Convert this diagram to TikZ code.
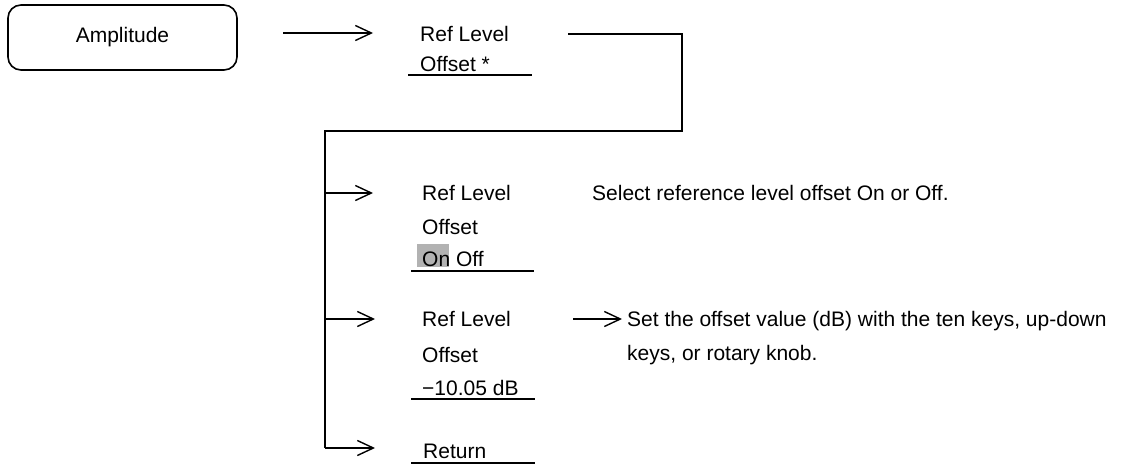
\documentclass[tikz,border=0pt]{standalone}
\usepackage{fontspec}
\setmainfont{Liberation Sans}
\usetikzlibrary{arrows.meta}
\begin{document}
\begin{tikzpicture}[x=1pt,y=-1pt,
  txt/.style={anchor=base west,inner sep=0pt,font=\fontsize{21}{25}\selectfont},
  ln/.style={line width=1.4pt},
  arr/.style={ln,-{Straight Barb[length=16pt,width=15pt,line width=1.4pt]}},
  ul/.style={line width=1.6pt},
  hl/.style={fill=black!30,draw=none}]
\useasboundingbox (0,0) rectangle (1122,466);
% Amplitude key
\node[draw,line width=1.6pt,rounded corners=13pt,minimum width=229pt,minimum height=65pt,inner sep=0pt,
      font=\fontsize{21}{25}\selectfont] (amp) at (122.5,37.5) {Amplitude};
% highlight behind "On"
\fill[hl] (417,244) rectangle (449,267);
% labels
\node[txt] (rl1) at (420,41) {Ref Level};
\node[txt] (of1) at (420,71) {Offset *};
\node[txt] (rl2) at (422,200) {Ref Level};
\node[txt] (of2) at (422,234) {Offset};
\node[txt] (oo2) at (422,266) {On Off};
\node[txt] (rl3) at (422,326) {Ref Level};
\node[txt] (of3) at (422,362) {Offset};
\node[txt] (val3) at (422,395) {−10.05 dB};
\node[txt] (ret) at (423,458) {Return};
\node[txt] (sel) at (592,200) {Select reference level offset On or Off.};
\node[txt] (set1) at (627,326) {Set the offset value (dB) with the ten keys, up-down};
\node[txt] (set2) at (627,360) {keys, or rotary knob.};
% underlines
\coordinate (u1a) at (408,75);  \coordinate (u1b) at (532,75);
\coordinate (u2a) at (411,271); \coordinate (u2b) at (534,271);
\coordinate (u3a) at (411,399); \coordinate (u3b) at (535,399);
\coordinate (u4a) at (411,463); \coordinate (u4b) at (535,463);
\draw[ul] (u1a) -- (u1b);
\draw[ul] (u2a) -- (u2b);
\draw[ul] (u3a) -- (u3b);
\draw[ul] (u4a) -- (u4b);
% connectors
\coordinate (a1s) at (283,33);  \coordinate (a1e) at (373,33);
\draw[arr] (a1s) -- (a1e);
\coordinate (l1s) at (568,34); \coordinate (l1c) at (682,131);
\coordinate (vt) at (325,131); \coordinate (vb) at (325,448);
\draw[ln] (l1s) -| (l1c) -- (vt) -- (vb);
\coordinate (b2s) at (325,193); \coordinate (b2e) at (373,193);
\coordinate (b3s) at (325,319); \coordinate (b3e) at (375,319);
\coordinate (b4e) at (375,448);
\draw[arr] (b2s) -- (b2e);
\draw[arr] (b3s) -- (b3e);
\draw[arr] (vb) -- (b4e);
\coordinate (s1s) at (573,319); \coordinate (s1e) at (622,319);
\draw[arr] (s1s) -- (s1e);
\end{tikzpicture}
\end{document}
